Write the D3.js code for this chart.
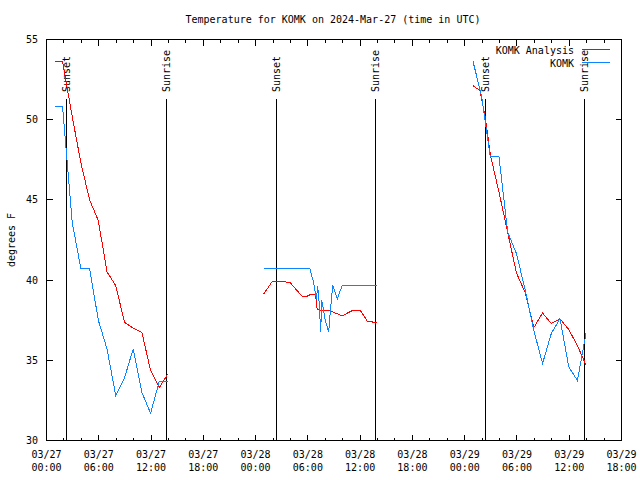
<!DOCTYPE html>
<html><head><meta charset="utf-8">
<script src="https://cdn.jsdelivr.net/npm/d3@7"></script>
<style>
body{margin:0;background:#fff;}
svg{display:block;}
text{font-family:"DejaVu Sans Mono","Liberation Mono",monospace;font-size:10px;fill:#000;}
</style></head>
<body>
<svg id="chart" width="640" height="480"></svg>
<script>
// ---- data (hours after 2024-03-27 00:00 UTC, temperature in °F) ----
const title = "Temperature for KOMK on 2024-Mar-27 (time in UTC)";
const yLabel = "degrees F";
const seriesNames = ["KOMK Analysis", "KOMK"];

const analysis1Hours = [0.95,1.85,2.95,3.95,4.95,5.95,6.95,7.95,8.95,9.95,10.95,11.95,12.95,13.95];
const analysis1Temps = [53.63,53.6,50.2,47.3,45.0,43.7,40.5,39.66,37.37,37.0,36.73,34.36,33.3,34.17];

const analysis2Hours = [24.94,25.88,27.43,28.01,29.35,29.84,30.30,30.88,31.07,32.60,33.94,35.09,36.04,36.81,37.88];
const analysis2Temps = [39.14,39.89,39.89,39.82,38.98,38.98,39.10,39.10,38.15,38.07,37.77,38.10,38.10,37.45,37.34];

const analysis3Hours = [48.93,49.74,50.39,50.96,51.93,52.94,53.94,54.94,55.94,56.94,57.94,58.94,59.94,60.94,61.94];
const analysis3Temps = [52.13,51.82,50.06,47.77,45.5,42.97,40.44,39.23,37.04,37.95,37.29,37.59,36.92,35.92,34.68];

const obs1Hours = [0.95,1.85,2.95,3.95,4.95,5.95,6.95,7.95,8.95,9.95,10.95,11.95,12.95,13.95];
const obs1Temps = [50.8,50.8,43.6,40.7,40.7,37.5,35.7,32.8,33.9,35.7,33.0,31.7,33.7,33.7];

const obs2Hours = [24.94,30.23,30.6,30.82,31.0,31.12,31.3,31.47,31.6,32.0,32.39,32.6,32.86,33.37,33.94,37.95];
const obs2Temps = [40.70,40.70,39.97,39.35,38.83,39.66,38.6,36.75,38.73,37.5,36.75,38.2,39.66,38.83,39.66,39.66];

const obs3Hours = [48.93,49.93,50.93,51.93,52.94,53.94,54.94,55.94,56.94,57.94,58.94,59.94,60.94,61.94];
const obs3Temps = [53.69,51.5,47.71,47.71,42.97,41.66,39.4,36.86,34.8,36.67,37.6,34.6,33.74,36.73];

const sunsets  = ["2024-03-27T02:21Z","2024-03-28T02:22Z","2024-03-29T02:20Z"];
const sunrises = ["2024-03-27T13:49Z","2024-03-28T13:48Z","2024-03-29T13:47Z"];

const yTicks = [30,35,40,45,50,55];
const startISO = "2024-03-27T00:00Z", endISO = "2024-03-29T18:00Z";

// ---- drawing ----
const svg = d3.select("#chart");
const t0 = new Date(startISO);
const toDate = h => new Date(t0.getTime() + h*3600e3);
const L=46.5, R=621.5, T=39.5, B=440.5;
const x = d3.scaleUtc().domain([t0, new Date(endISO)]).range([L, R]);
const y = d3.scaleLinear().domain([30,55]).range([B, T]);
const snap = v => Math.round(v - 0.5) + 0.5;

// frame
svg.append("rect").attr("x",L).attr("y",T).attr("width",R-L).attr("height",B-T)
  .attr("fill","none").attr("stroke","#000").attr("stroke-width",1).attr("shape-rendering","crispEdges");

// x ticks: major every 6h, minor every 2h (bottom and mirrored top)
const majors = d3.utcHour.every(6).range(t0, new Date(new Date(endISO).getTime()+1));
const minors = d3.utcHour.every(2).range(t0, new Date(new Date(endISO).getTime()+1));
const gt = svg.append("g").attr("stroke","#000").attr("shape-rendering","crispEdges");
minors.forEach(d=>{
  const isMajor = d.getUTCHours()%6===0;
  const len = isMajor?6:3;
  const xx = snap(x(d));
  gt.append("line").attr("x1",xx).attr("x2",xx).attr("y1",B).attr("y2",B-len);
  gt.append("line").attr("x1",xx).attr("x2",xx).attr("y1",T).attr("y2",T+len);
});
yTicks.forEach(v=>{
  const yy = snap(y(v));
  gt.append("line").attr("x1",L).attr("x2",L+6).attr("y1",yy).attr("y2",yy);
  gt.append("line").attr("x1",R).attr("x2",R-6).attr("y1",yy).attr("y2",yy);
});
// tick labels
const fmtD = d3.utcFormat("%m/%d"), fmtT = d3.utcFormat("%H:%M");
majors.forEach(d=>{
  svg.append("text").attr("x",x(d)).attr("y",458).attr("text-anchor","middle").text(fmtD(d));
  svg.append("text").attr("x",x(d)).attr("y",471).attr("text-anchor","middle").text(fmtT(d));
});
yTicks.forEach(v=>{
  svg.append("text").attr("x",38).attr("y",y(v)).attr("dy","0.35em").attr("text-anchor","end").text(v);
});

// title and axis label
svg.append("text").attr("x",333).attr("y",23).attr("text-anchor","middle").text(title);
svg.append("text").attr("transform","translate(15,240) rotate(-90)").attr("text-anchor","middle").text(yLabel);

// sunset / sunrise lines
const sunG = svg.append("g");
function sunLine(iso, label){
  const xx = snap(x(new Date(iso)));
  sunG.append("line").attr("x1",xx).attr("x2",xx).attr("y1",99).attr("y2",B)
    .attr("stroke","#000").attr("shape-rendering","crispEdges");
  sunG.append("text").attr("transform",`translate(${xx},92) rotate(-90)`).attr("dy","0.35em")
    .attr("text-anchor","start").text(label);
}
sunsets.forEach(s=>sunLine(s,"Sunset"));
sunrises.forEach(s=>sunLine(s,"Sunrise"));

// series
const colors = ["#ff0000","#0a84ff"];
const line = d3.line().x(d=>x(toDate(d[0]))).y(d=>y(d[1]));
const zipS = (hs,ts)=>hs.map((h,i)=>[h,ts[i]]);
const segs = [
  [zipS(analysis1Hours,analysis1Temps),0],[zipS(analysis2Hours,analysis2Temps),0],[zipS(analysis3Hours,analysis3Temps),0],
  [zipS(obs1Hours,obs1Temps),1],[zipS(obs2Hours,obs2Temps),1],[zipS(obs3Hours,obs3Temps),1]
];
segs.forEach(([pts,c])=>{
  svg.append("path").attr("d",line(pts)).attr("fill","none").attr("stroke",colors[c])
    .attr("stroke-width",1).attr("shape-rendering","crispEdges");
});

// legend
seriesNames.forEach((n,i)=>{
  const yy = 50 + i*13;
  svg.append("text").attr("x",574).attr("y",yy).attr("dy","0.35em").attr("text-anchor","end").text(n);
  svg.append("line").attr("x1",582).attr("x2",610).attr("y1",yy-0.5).attr("y2",yy-0.5)
    .attr("stroke",colors[i]).attr("shape-rendering","crispEdges");
});
</script>
</body></html>
